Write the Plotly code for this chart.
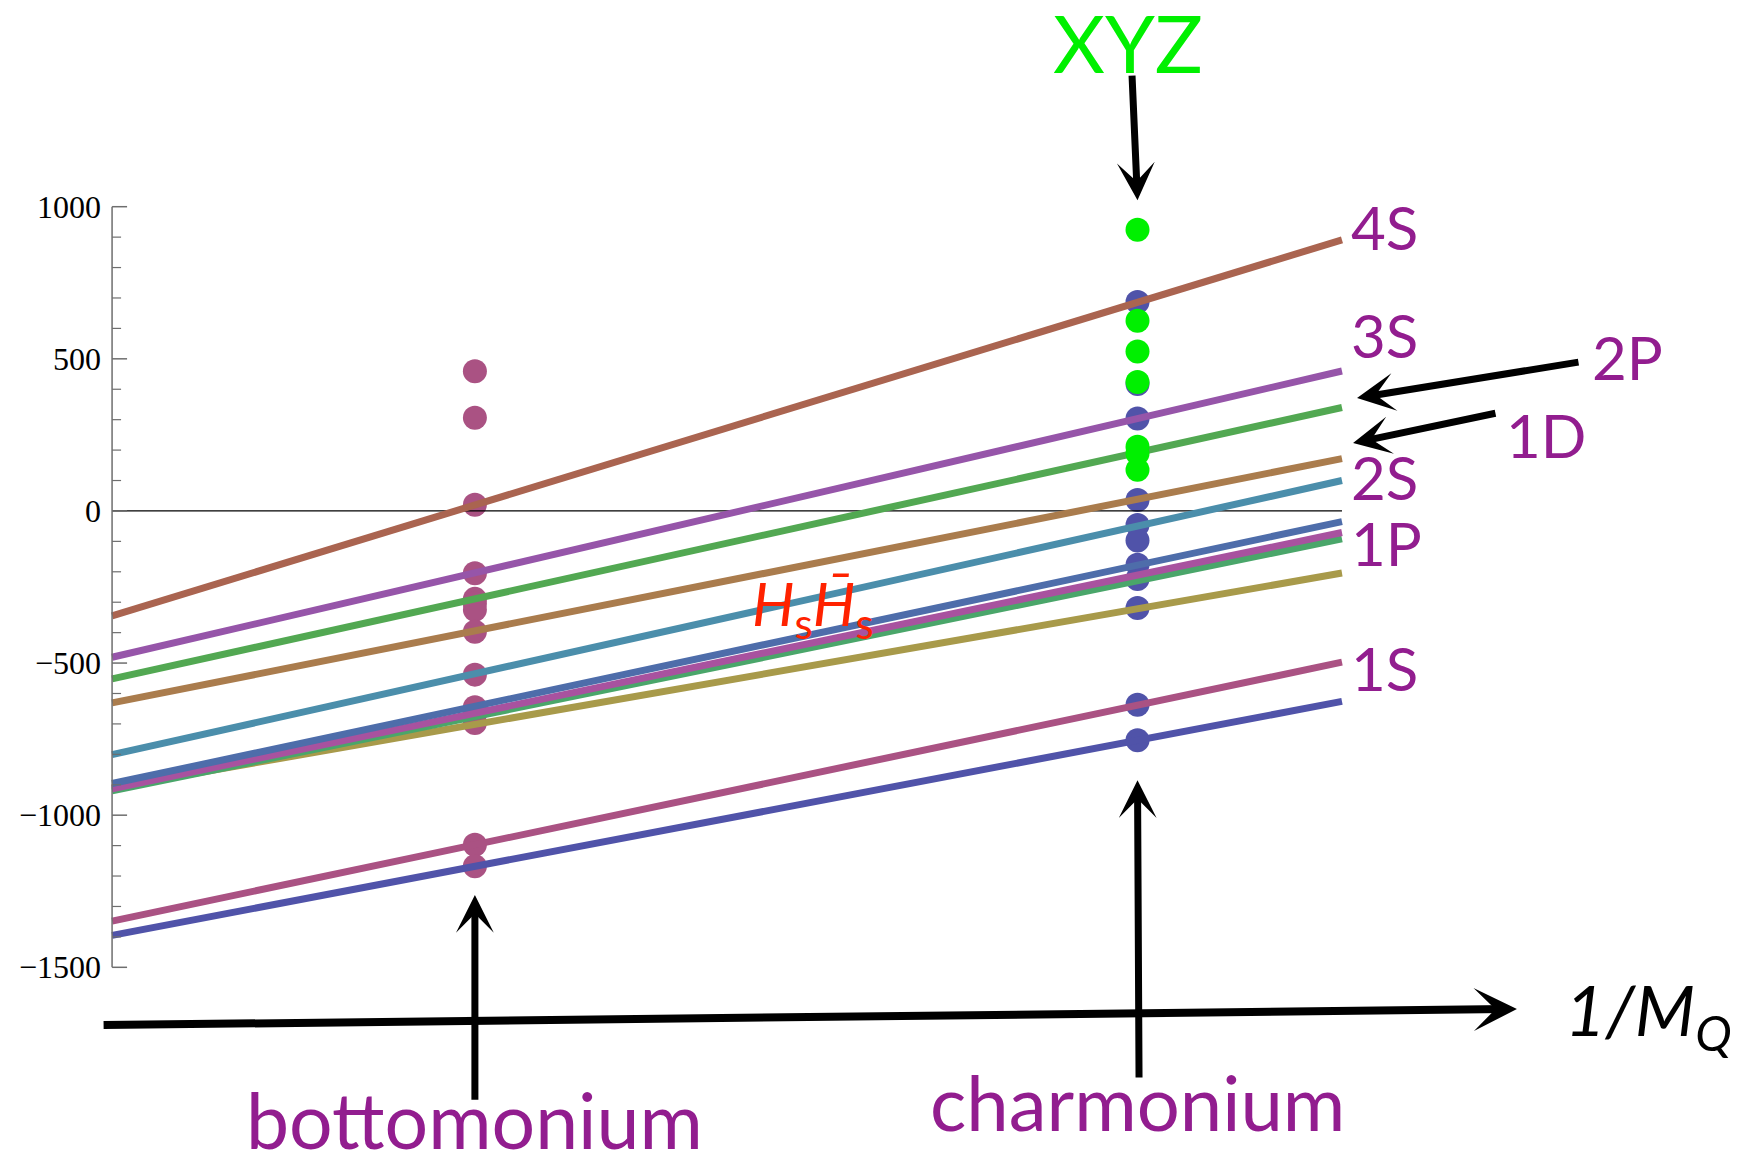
import plotly.graph_objects as go

# Heavy-quark mass axis (1/M_Q in 1/GeV)
x_start, x_end = 0.0, 0.8
x_bottom = 0.236   # 1/m_b
x_charm = 0.667    # 1/m_c

# Quarkonium level curves: energy (MeV, relative to open-flavour threshold) at both ends
level_names = ["1S", "1S", "1P", "1P", "1P", "1P", "2S", "1D", "2P", "3S", "4S"]
E_at_start = [-1395, -1348, -910, -920, -913, -896, -801, -631, -552, -481, -345]
E_at_end = [-626, -497, -204, -92, -71, -35, 100, 172, 340, 460, 891]
line_colors = ["#5053A9", "#AA5283", "#A89A4A", "#4AA66A", "#A8529F", "#4E6DAA",
               "#4B8EAB", "#AA7C4D", "#52A852", "#9655A9", "#AA6450"]

# Measured states relative to 2M_B and 2M_D (MeV)
bottomonium_E = [459, 306, 20, -205, -289, -304, -325, -397, -538, -645, -668, -697, -1097, -1168]
charmonium_E = [687, 417, 304, 36, -46, -97, -177, -224, -319, -637, -754]
xyz_E = [924, 625, 524, 424, 211, 189, 135]

# Vertical axis ticks
major_ticks = [-1500, -1000, -500, 0, 500, 1000]
major_labels = ["\u22121500", "\u22121000", "\u2212500", "0", "500", "1000"]
minor_ticks = [v for v in range(-1500, 1001, 100) if v % 500 != 0]

# Level labels at the right end
label_text = ["4S", "3S", "2S", "1P", "1S"]
label_y = [932, 578, 111, -105, -517]

PURPLE = "#921D8F"
GREEN = "#00F000"
SANS = "Lato, 'Open Sans', sans-serif"

fig = go.Figure()

# bottomonium spectrum
fig.add_trace(go.Scatter(
    x=[x_bottom] * len(bottomonium_E), y=bottomonium_E, mode="markers",
    marker=dict(size=24, color="#AA5283", line=dict(width=0)), hoverinfo="skip"))
# charmonium spectrum
fig.add_trace(go.Scatter(
    x=[x_charm] * len(charmonium_E), y=charmonium_E, mode="markers",
    marker=dict(size=24, color="#5053A9", line=dict(width=0)), hoverinfo="skip"))

# zero line
fig.add_trace(go.Scatter(x=[x_start, x_end], y=[0, 0], mode="lines",
                         line=dict(color="black", width=1.2), hoverinfo="skip"))

# level curves
for name, e0, e1, c in zip(level_names, E_at_start, E_at_end, line_colors):
    fig.add_trace(go.Scatter(x=[x_start, x_end], y=[e0, e1], mode="lines", name=name,
                             line=dict(color=c, width=7), hoverinfo="skip"))

# exotic XYZ states
fig.add_trace(go.Scatter(
    x=[x_charm] * len(xyz_E), y=xyz_E, mode="markers",
    marker=dict(size=24, color=GREEN, line=dict(width=0)), hoverinfo="skip"))

shapes = []
# vertical axis line
shapes.append(dict(type="line", xref="x", yref="y", x0=0, x1=0, y0=-1500, y1=1000,
                   line=dict(color="#6E6E6E", width=1.5)))
for t in major_ticks:
    shapes.append(dict(type="line", xref="x", yref="y", xsizemode="pixel", xanchor=0,
                       x0=0, x1=15, y0=t, y1=t, line=dict(color="#6E6E6E", width=1.5)))
for t in minor_ticks:
    shapes.append(dict(type="line", xref="x", yref="y", xsizemode="pixel", xanchor=0,
                       x0=0, x1=9, y0=t, y1=t, line=dict(color="#6E6E6E", width=1.2)))

annotations = []
for t, lab in zip(major_ticks, major_labels):
    annotations.append(dict(x=0, y=t, xref="x", yref="y", text=lab, showarrow=False,
                            xanchor="right", yanchor="middle", xshift=-10, borderpad=0,
                            font=dict(family="Liberation Serif, Times New Roman, serif",
                                      size=32, color="black")))

for txt, yv in zip(label_text, label_y):
    annotations.append(dict(x=x_end, y=yv, xref="x", yref="y", text=txt, showarrow=False,
                            xanchor="left", yanchor="middle", xshift=8, borderpad=0,
                            font=dict(family=SANS, size=60, color=PURPLE)))

annotations += [
    dict(x=0.986, y=506, xref="x", yref="y", text="2P", showarrow=False,
         font=dict(family=SANS, size=60, color=PURPLE)),
    dict(x=0.933, y=250, xref="x", yref="y", text="1D", showarrow=False,
         font=dict(family=SANS, size=60, color=PURPLE)),
    dict(x=0.6608, y=1540, xref="x", yref="y", text="XYZ", showarrow=False,
         font=dict(family=SANS, size=80, color=GREEN)),
    dict(x=0.456, y=-316, xref="x", yref="y",
         text="<i>H</i><sub>s</sub><i>H\u0304</i><sub>s</sub>", showarrow=False,
         font=dict(family=SANS, size=60, color="#FF2200")),
    dict(x=0.944, y=-1655, xref="x", yref="y", text="<i>1/M<sub>Q</sub></i>",
         showarrow=False, xanchor="left",
         font=dict(family=SANS, size=70, color="black")),
    dict(x=x_bottom, y=-2000, xref="x", yref="y", text="bottomonium", showarrow=False,
         font=dict(family=SANS, size=77, color=PURPLE)),
    dict(x=x_charm, y=-1941, xref="x", yref="y", text="charmonium", showarrow=False,
         font=dict(family=SANS, size=76, color=PURPLE)),
]

# arrows: (tip x, tip y, tail x, tail y, width)
arrows = [
    (x_bottom, -1262, x_bottom, -1940, 7),
    (x_charm, -885, 0.6680, -1867, 7),
    (x_charm, 1021, 0.6634, 1436, 7),
    (0.9138, -1637, -0.0065, -1690, 8),
    (0.8098, 371, 0.9548, 490, 7),
    (0.8072, 223, 0.9008, 322, 7),
]
for tx, ty, sx, sy, w in arrows:
    annotations.append(dict(x=tx, y=ty, ax=sx, ay=sy, xref="x", yref="y",
                            axref="x", ayref="y", text="", showarrow=True,
                            arrowhead=3, arrowsize=0.9, arrowwidth=w,
                            arrowcolor="black", standoff=0))

fig.update_layout(
    width=1748, height=1157,
    margin=dict(l=0, r=0, t=0, b=0),
    paper_bgcolor="white", plot_bgcolor="white",
    showlegend=False, hovermode=False,
    xaxis=dict(visible=False, range=[-0.0729, 1.0641], fixedrange=True),
    yaxis=dict(visible=False, range=[-2123.5, 1679.4], fixedrange=True),
    shapes=shapes, annotations=annotations,
)

fig.write_html("out.html", include_plotlyjs=True, config={"displayModeBar": False})
